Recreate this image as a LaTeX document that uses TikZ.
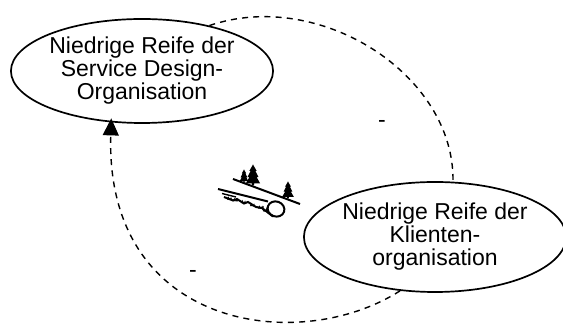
\documentclass[tikz,border=0pt]{standalone}
\usepackage{fontspec}
\setmainfont{Liberation Sans}
\usetikzlibrary{shapes.geometric,arrows.meta}

\tikzset{every picture/.style={line width=0.75pt}}
\tikzset{
	reife/.style={ellipse,draw,line width=0.85pt,minimum width=127pt,minimum height=52pt,inner sep=0pt,align=center,font=\fontsize{11.5}{11.5}\selectfont},
	schleife/.style={dash pattern=on 3pt off 2.6pt,line width=0.7pt},
	zeichen/.style={inner sep=0pt,font=\fontsize{11.5}{11.5}\selectfont}
}
% Tanne: Fusspunkt x, Fusspunkt y, Hoehe
\newcommand{\tanne}[3]{%
	\fill ({#1-0.05*#3},#2) -- ({#1-0.05*#3},{#2-0.1*#3}) -- ({#1-0.34*#3},{#2-0.1*#3})
	-- ({#1-0.17*#3},{#2-0.4*#3}) -- ({#1-0.26*#3},{#2-0.4*#3})
	-- ({#1-0.11*#3},{#2-0.7*#3}) -- ({#1-0.17*#3},{#2-0.7*#3}) -- (#1,{#2-#3})
	-- ({#1+0.17*#3},{#2-0.7*#3}) -- ({#1+0.11*#3},{#2-0.7*#3})
	-- ({#1+0.26*#3},{#2-0.4*#3}) -- ({#1+0.17*#3},{#2-0.4*#3})
	-- ({#1+0.34*#3},{#2-0.1*#3}) -- ({#1+0.05*#3},{#2-0.1*#3}) -- ({#1+0.05*#3},#2) -- cycle;}

\begin{document}
\begin{tikzpicture}[x=0.5pt,y=-0.5pt]
	\useasboundingbox (0,0) rectangle (563,325);
	%Ellipse 1
	\node[reife] (sd) at (142,71) {Niedrige Reife der\\Service Design-\\Organisation};
	%Ellipse 2
	\node[reife,minimum height=55pt,minimum width=128pt] (kl) at (435,237) {Niedrige Reife der\\Klienten-\\organisation};
	%Schleife oben
	\draw[schleife] (sd.34) .. controls (320,-12) and (455,75) .. (kl.72);
	%Schleife unten mit Pfeil
	\draw[schleife,-{Triangle[length=8.5pt,width=8pt]},shorten >=-2pt] (kl.237) .. controls (300,355) and (105,330) .. (sd.239);
	%Vorzeichen
	\node[zeichen] (m1) at (382,124) {-};
	\node[zeichen] (m2) at (193,274) {-};
	%Hang mit Tannen
	\draw[line width=1pt] (233,179) -- (300,204);
	\tanne{244}{182.5}{13}
	\tanne{253}{185.5}{21}
	\tanne{288}{198.5}{17}
	%Baumstamm
	\draw[line width=1pt] (218,189) -- (268,201.5);
	\draw[line width=0.7pt] (222,193.5) -- (236,197);
	\draw[line width=1pt] (224,197) -- (233,200.5) -- (237,199) -- (244,203.5) -- (248,202) -- (256,207) -- (262,208) -- (273,216.5);
	\draw[line width=1pt,rotate around={-20:(276,209)}] (276,209) ellipse (8.5 and 7.5);
	\draw[line width=0.7pt] (263,206) arc (200:130:5);
	\draw[line width=0.7pt] (267,207.5) arc (200:130:5);
	%Gras
	\foreach \gx/\gy in {227/199.5, 233/201, 241/203, 250/206, 258/208.5} {
		\fill (\gx,\gy) -- ++(1.5,-3) -- ++(1.2,3) -- ++(1.4,-2.5) -- ++(1,3) -- cycle;
	}
\end{tikzpicture}
\end{document}
